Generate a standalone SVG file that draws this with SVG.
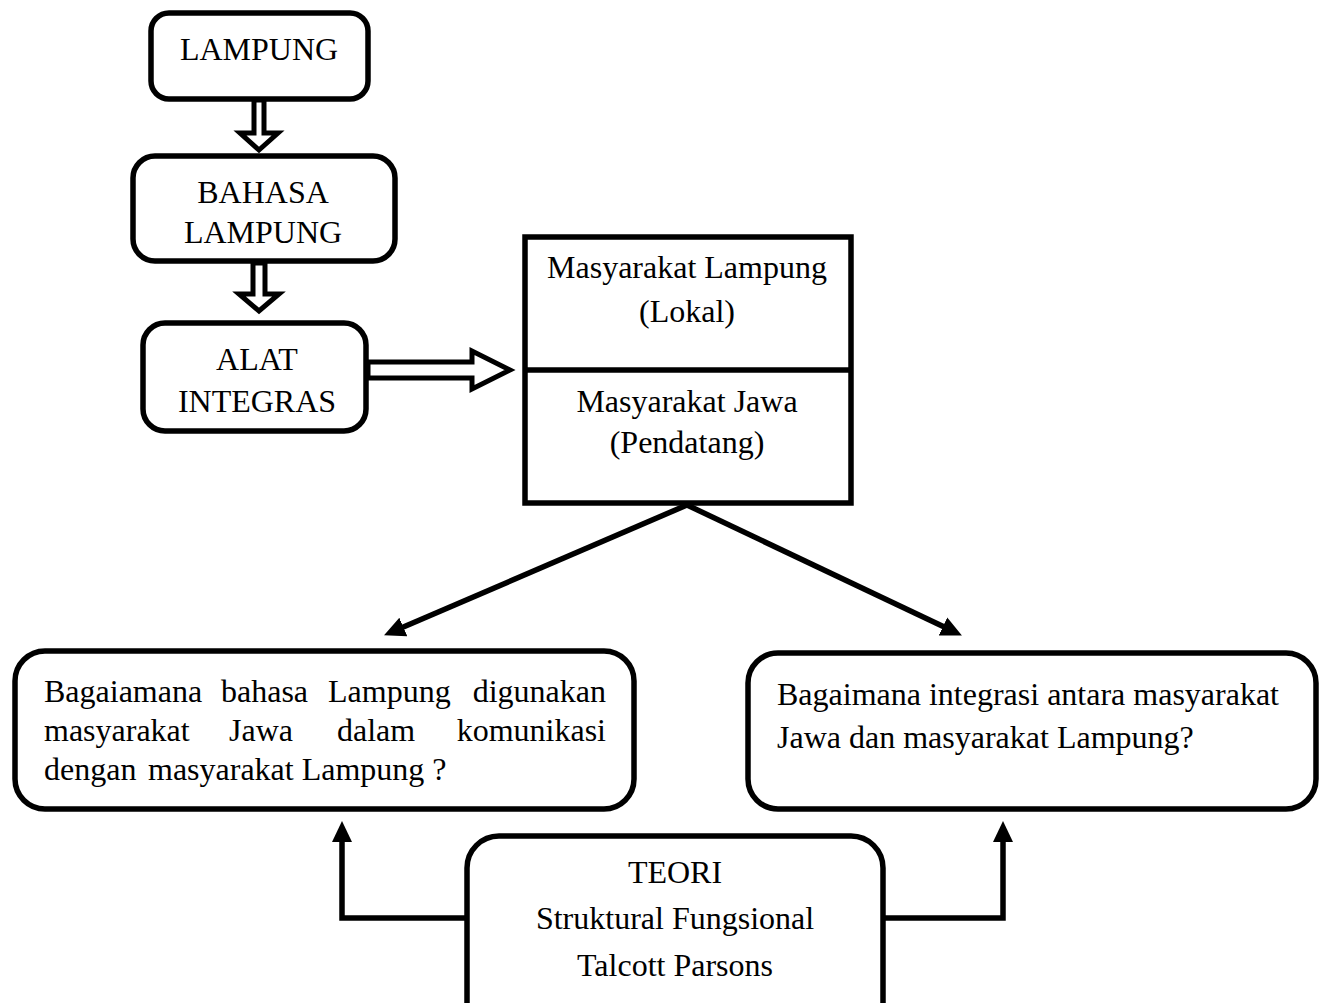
<svg xmlns="http://www.w3.org/2000/svg" width="1323" height="1003" viewBox="0 0 1323 1003">
<style>
.box{fill:#fff;stroke:#000;stroke-width:5.5}
.t{font-family:"Liberation Serif","Times New Roman",serif;font-size:32px;fill:#000}
.c{text-anchor:middle}
.hollow{fill:#fff;stroke:#000;stroke-width:5;stroke-linejoin:miter}
.ln{fill:none;stroke:#000;stroke-width:5.5}
</style>
<defs>
<marker id="ah" markerUnits="userSpaceOnUse" markerWidth="22" markerHeight="22" refX="12" refY="10" orient="auto" viewBox="0 0 22 20">
<path d="M0,0 L21,10 L0,20 z" fill="#000"/>
</marker>
<clipPath id="clipB"><rect x="0" y="0" width="1323" height="245"/></clipPath>
<clipPath id="clipQ"><rect x="0" y="0" width="1323" height="787"/></clipPath>
</defs>
<rect width="1323" height="1003" fill="#fff"/>

<g id="connectors">
<polygon class="hollow" points="254,100 254,133 240,133 259,150 278,133 264,133 264,100"/>
<polygon class="hollow" points="253,263 253,294 239,294 259,311 279,294 265,294 265,263"/>
<polygon class="hollow" points="368,362 472,362 472,351 510,370 472,389 472,378 368,378"/>
<path class="ln" d="M687,505 L392.3,631.8" marker-end="url(#ah)"/>
<path class="ln" d="M687,505 L953.8,631.6" marker-end="url(#ah)"/>
<path class="ln" d="M467,918 H342 V830" marker-end="url(#ah)"/>
<path class="ln" d="M883,918 H1003 V830" marker-end="url(#ah)"/>
</g>

<g id="node-lampung">
<rect class="box" x="151" y="13" width="217" height="86" rx="18"/>
<text class="t c" x="259" y="60">LAMPUNG</text>
</g>

<g id="node-bahasa">
<rect class="box" x="133" y="156" width="262" height="105" rx="22"/>
<text class="t c" x="263" y="203">BAHASA</text>
<text class="t c" x="263" y="243" clip-path="url(#clipB)">LAMPUNG</text>
</g>

<g id="node-alat">
<rect class="box" x="143" y="323" width="223" height="108" rx="22"/>
<text class="t c" x="257" y="370">ALAT</text>
<text class="t c" x="257" y="412">INTEGRAS</text>
</g>

<g id="node-masyarakat">
<rect class="box" x="525" y="237" width="326" height="266"/>
<line x1="525" y1="370" x2="851" y2="370" stroke="#000" stroke-width="5.5"/>
<text class="t c" x="687" y="278">Masyarakat Lampung</text>
<text class="t c" x="687" y="322">(Lokal)</text>
<text class="t c" x="687" y="412">Masyarakat Jawa</text>
<text class="t c" x="687" y="453">(Pendatang)</text>
</g>

<g id="node-q1">
<rect class="box" x="15" y="651" width="619" height="158" rx="30"/>
<text class="t" y="702"><tspan x="44">Bagaiamana</tspan><tspan x="221">bahasa</tspan><tspan x="328">Lampung</tspan><tspan x="606" text-anchor="end">digunakan</tspan></text>
<text class="t" y="741"><tspan x="44">masyarakat</tspan><tspan x="229">Jawa</tspan><tspan x="337">dalam</tspan><tspan x="606" text-anchor="end">komunikasi</tspan></text>
<text class="t" y="780" clip-path="url(#clipQ)"><tspan x="44">dengan</tspan><tspan x="148">masyarakat Lampung ?</tspan></text>
</g>

<g id="node-q2">
<rect class="box" x="748" y="653" width="568" height="156" rx="30"/>
<text class="t" x="777" y="705">Bagaimana integrasi antara masyarakat</text>
<text class="t" x="777" y="748">Jawa dan masyarakat Lampung?</text>
</g>

<g id="node-teori">
<rect class="box" x="467" y="836" width="416" height="200" rx="32"/>
<text class="t c" x="675" y="883">TEORI</text>
<text class="t c" x="675" y="929">Struktural Fungsional</text>
<text class="t c" x="675" y="976">Talcott Parsons</text>
</g>
</svg>
